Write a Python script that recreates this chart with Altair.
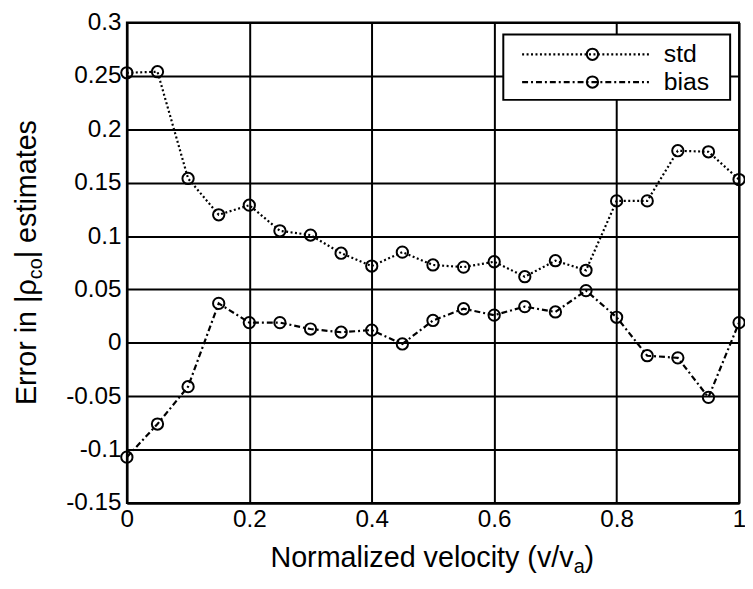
import altair as alt
import pandas as pd

# ---- data ----
velocity = [0.0, 0.05, 0.1, 0.15, 0.2, 0.25, 0.3, 0.35, 0.4, 0.45, 0.5,
            0.55, 0.6, 0.65, 0.7, 0.75, 0.8, 0.85, 0.9, 0.95, 1.0]
std_values = [0.253, 0.254, 0.154, 0.120, 0.129, 0.105, 0.101, 0.084, 0.072, 0.085, 0.073,
              0.071, 0.076, 0.062, 0.077, 0.068, 0.133, 0.133, 0.180, 0.179, 0.153]
bias_values = [-0.107, -0.076, -0.041, 0.037, 0.019, 0.019, 0.013, 0.010, 0.012, -0.001, 0.021,
               0.032, 0.026, 0.034, 0.029, 0.049, 0.024, -0.012, -0.014, -0.051, 0.019]
series_names = ["std", "bias"]
x_ticks = [0, 0.2, 0.4, 0.6, 0.8, 1]
y_ticks = [-0.15, -0.1, -0.05, 0, 0.05, 0.1, 0.15, 0.2, 0.25, 0.3]
y_title_parts = ["Error in |\u03c1", "co", "| estimates"]
x_title_parts = ["Normalized velocity (v/v", "a", ")"]

FONT = "Liberation Sans"

rows = []
for v, s in zip(velocity, std_values):
    rows.append({"velocity": v, "value": s, "series": "std"})
for v, b in zip(velocity, bias_values):
    rows.append({"velocity": v, "value": b, "series": "bias"})
df = pd.DataFrame(rows)

dash_scale = alt.Scale(domain=series_names, range=[[2, 2.5], [6, 3, 2, 3]])

axis_common = dict(
    grid=True, gridColor="black", gridWidth=2, gridOpacity=1,
    domainColor="black", domainWidth=2, ticks=False,
    labelFont=FONT, labelFontSize=24.5, labelColor="black",
    labelFlush=False, labelOverlap=False, title=None,
    labelExpr="'' + datum.value",
)

x_enc = alt.X("velocity:Q", scale=alt.Scale(domain=[0, 1], nice=False, zero=False),
              axis=alt.Axis(values=x_ticks, labelPadding=5, **axis_common))
y_enc = alt.Y("value:Q", scale=alt.Scale(domain=[-0.15, 0.3], nice=False, zero=False),
              axis=alt.Axis(values=y_ticks, labelPadding=6, **axis_common))

base = alt.Chart(df)
lines = base.mark_line(color="black", strokeWidth=2.2).encode(
    x=x_enc, y=y_enc,
    strokeDash=alt.StrokeDash("series:N", scale=dash_scale, legend=None),
)
points = base.mark_point(shape="circle", filled=False, color="black", size=130,
                         strokeWidth=2, opacity=1).encode(
    x=x_enc, y=y_enc, detail="series:N")

layers = [lines, points]

# ---- axis titles with subscripts ----
def txt(s, **kw):
    return alt.Chart(pd.DataFrame({"t": [s]})).mark_text(
        font=FONT, color="black", **kw)

TF = 29
SF = 20
YX = -92
# y title (rotated)
layers.append(txt(y_title_parts[0], fontSize=TF, angle=270, align="right",
                  baseline="alphabetic").encode(x=alt.value(YX), y=alt.value(259), text="t:N"))
layers.append(txt(y_title_parts[1], fontSize=SF, angle=270, align="left",
                  baseline="alphabetic", dy=6).encode(x=alt.value(YX), y=alt.value(259), text="t:N"))
layers.append(txt(y_title_parts[2], fontSize=TF, angle=270, align="left",
                  baseline="alphabetic").encode(x=alt.value(YX), y=alt.value(238), text="t:N"))
# x title
layers.append(txt(x_title_parts[0], fontSize=TF, align="right",
                  baseline="alphabetic").encode(x=alt.value(451), y=alt.value(550), text="t:N"))
layers.append(txt(x_title_parts[1], fontSize=SF, align="left",
                  baseline="alphabetic", dy=6).encode(x=alt.value(451), y=alt.value(550), text="t:N"))
layers.append(txt(x_title_parts[2], fontSize=TF, align="left",
                  baseline="alphabetic").encode(x=alt.value(462), y=alt.value(550), text="t:N"))

# ---- legend box ----
layers.append(alt.Chart(pd.DataFrame({"a": [0]})).mark_rect(
    fill="white", stroke="black", strokeWidth=2).encode(
    x=alt.value(380), x2=alt.value(609), y=alt.value(12), y2=alt.value(78)))
legend_rows_y = [32, 60]
for name, ly in zip(series_names, legend_rows_y):
    ldf = pd.DataFrame({"series": [name]})
    layers.append(alt.Chart(ldf).mark_rule(color="black", strokeWidth=2.2).encode(
        x=alt.value(399), x2=alt.value(527), y=alt.value(ly),
        strokeDash=alt.StrokeDash("series:N", scale=dash_scale, legend=None)))
    layers.append(alt.Chart(ldf).mark_point(shape="circle", filled=False, color="black",
                                            size=130, strokeWidth=2, opacity=1).encode(
        x=alt.value(470), y=alt.value(ly)))
    layers.append(alt.Chart(ldf).mark_text(font=FONT, fontSize=25, color="black",
                                           align="left", baseline="middle").encode(
        x=alt.value(542), y=alt.value(ly), text="series:N"))

chart = alt.layer(*layers).properties(
    width=618, height=485,
    autosize=alt.AutoSizeParams(type="none"),
    padding={"left": 120, "top": 12, "right": 6, "bottom": 82},
    background="white",
).configure_view(stroke="black", strokeWidth=2)

chart.save("out.html", embed_options={"renderer": "svg", "actions": False})
